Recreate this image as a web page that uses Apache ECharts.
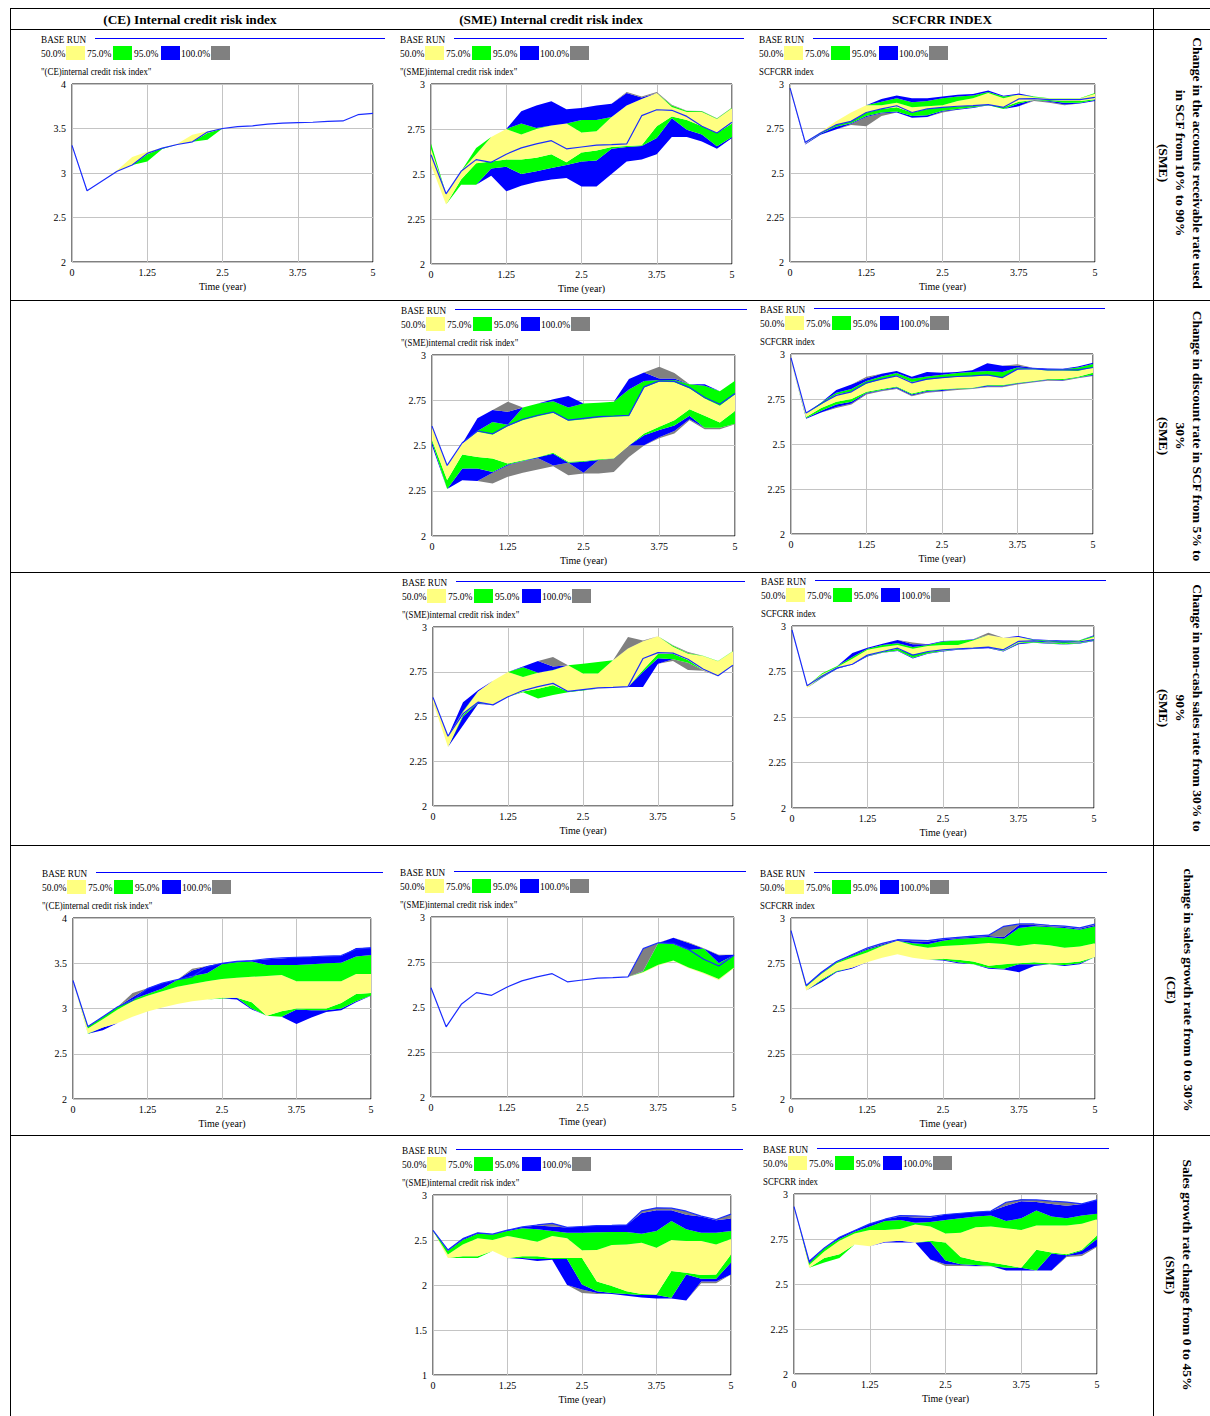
<!DOCTYPE html>
<html><head><meta charset="utf-8">
<script src="https://cdn.jsdelivr.net/npm/echarts@6/dist/echarts.min.js"></script>
<style>html,body{margin:0;padding:0;background:#fff}#c{width:1210px;height:1416px}</style>
</head><body><div id="c"></div>
<script>
// ---------------- DATA ----------------
const time = ['0','0.25','0.5','0.75','1','1.25','1.5','1.75','2','2.25','2.5','2.75','3','3.25','3.5','3.75','4','4.25','4.5','4.75','5'];
const columnTitles = ['(CE) Internal credit risk index','(SME) Internal credit risk index','SCFCRR INDEX'];
const rowLabels = [
  'Change in the accounts receivable rate used\nin SCF from 10% to 90%\n(SME)',
  'Change in discount rate in SCF from 5% to\n30%\n(SME)',
  'Change in non-cash sales rate from 30% to\n90%\n(SME)',
  'change in sales growth rate from 0 to 30%\n(CE)',
  'Sales growth rate change from 0 to 45%\n(SME)'
];
const legendLabels = ['50.0%','75.0%','95.0%','100.0%'];

const baseCE  = [3.31,2.80,2.91,3.02,3.09,3.22,3.28,3.32,3.35,3.46,3.50,3.52,3.53,3.55,3.56,3.565,3.57,3.58,3.585,3.655,3.67];
const baseSME = [2.607,2.39,2.515,2.58,2.565,2.61,2.645,2.667,2.685,2.64,2.65,2.66,2.663,2.667,2.824,2.857,2.854,2.82,2.765,2.728,2.787];
const baseSCF = [2.978,2.672,2.725,2.77,2.79,2.84,2.86,2.878,2.84,2.86,2.869,2.875,2.878,2.884,2.869,2.916,2.918,2.912,2.912,2.912,2.925];
const baseSCFg= [2.93,2.627,2.70,2.76,2.797,2.834,2.86,2.88,2.878,2.875,2.886,2.893,2.90,2.905,2.954,2.967,2.967,2.96,2.955,2.945,2.967];

// Chart A: (CE) index, receivable rate
const A_hi100 = [3.31,2.80,2.91,3.03,3.18,3.24,3.28,3.33,3.43,3.47,3.50,3.52,3.53,3.55,3.56,3.565,3.57,3.58,3.585,3.655,3.67];
const A_hi95 = A_hi100, A_hi75 = A_hi100, A_hi50 = A_hi100;
const A_lo50 = [3.31,2.80,2.91,3.02,3.09,3.21,3.28,3.32,3.35,3.45,3.50,3.52,3.53,3.55,3.56,3.565,3.57,3.58,3.585,3.655,3.67];
const A_lo75 = [3.31,2.80,2.91,3.02,3.09,3.13,3.27,3.32,3.35,3.375,3.50,3.52,3.53,3.55,3.56,3.565,3.57,3.58,3.585,3.655,3.67];
const A_lo95 = A_lo75, A_lo100 = A_lo75;

// Chart B: (SME) index, receivable rate
const B_hi100 = [2.67,2.39,2.515,2.645,2.705,2.75,2.848,2.88,2.904,2.86,2.867,2.88,2.89,2.955,2.93,2.955,2.885,2.852,2.85,2.81,2.87];
const B_hi95  = [2.67,2.39,2.515,2.645,2.705,2.75,2.848,2.88,2.904,2.86,2.867,2.88,2.89,2.95,2.925,2.95,2.88,2.85,2.848,2.808,2.868];
const B_hi75  = [2.67,2.39,2.515,2.645,2.705,2.75,2.78,2.755,2.77,2.78,2.80,2.80,2.817,2.88,2.917,2.95,2.88,2.85,2.848,2.808,2.868];
const B_hi50  = [2.64,2.39,2.515,2.61,2.705,2.75,2.72,2.75,2.77,2.78,2.73,2.737,2.817,2.88,2.917,2.95,2.872,2.845,2.845,2.805,2.865];
const B_lo50  = [2.55,2.33,2.47,2.56,2.57,2.58,2.58,2.59,2.61,2.565,2.62,2.63,2.65,2.655,2.66,2.765,2.82,2.80,2.765,2.728,2.78];
const B_lo75  = [2.55,2.33,2.44,2.44,2.53,2.54,2.50,2.515,2.533,2.55,2.57,2.575,2.64,2.65,2.655,2.70,2.81,2.746,2.72,2.654,2.705];
const B_lo95  = [2.55,2.33,2.44,2.44,2.49,2.404,2.435,2.455,2.47,2.478,2.43,2.43,2.50,2.57,2.58,2.61,2.706,2.706,2.68,2.64,2.70];
const B_lo100 = B_lo95;

// Chart C: SCFCRR, receivable rate
const C_hi100 = [2.99,2.672,2.73,2.79,2.84,2.88,2.916,2.936,2.92,2.92,2.93,2.94,2.944,2.964,2.934,2.946,2.93,2.92,2.92,2.92,2.95];
const C_hi95  = C_hi100;
const C_hi75  = [2.99,2.672,2.73,2.79,2.84,2.88,2.90,2.92,2.897,2.905,2.92,2.93,2.935,2.955,2.93,2.94,2.93,2.92,2.92,2.92,2.95];
const C_hi50  = [2.99,2.672,2.73,2.79,2.84,2.88,2.88,2.895,2.87,2.875,2.88,2.905,2.92,2.95,2.92,2.94,2.925,2.918,2.918,2.918,2.945];
const C_lo50  = [2.97,2.665,2.725,2.77,2.79,2.84,2.86,2.87,2.84,2.86,2.869,2.875,2.878,2.884,2.869,2.90,2.91,2.91,2.905,2.905,2.915];
const C_lo75  = [2.97,2.665,2.72,2.76,2.78,2.82,2.84,2.845,2.82,2.825,2.85,2.86,2.87,2.88,2.86,2.89,2.91,2.905,2.895,2.895,2.91];
const C_lo95  = [2.97,2.66,2.715,2.745,2.775,2.815,2.835,2.84,2.81,2.815,2.845,2.855,2.865,2.88,2.86,2.875,2.91,2.90,2.885,2.89,2.905];
const C_lo100 = [2.97,2.66,2.715,2.745,2.77,2.762,2.82,2.84,2.81,2.815,2.84,2.855,2.865,2.88,2.86,2.875,2.905,2.895,2.88,2.89,2.905];

// Chart D: (SME) index, discount rate
const D_hi100 = [2.603,2.387,2.511,2.65,2.696,2.742,2.71,2.732,2.756,2.773,2.732,2.736,2.742,2.867,2.904,2.935,2.90,2.838,2.838,2.80,2.858];
const D_hi95  = [2.603,2.387,2.511,2.65,2.696,2.686,2.71,2.732,2.756,2.773,2.732,2.736,2.742,2.867,2.904,2.87,2.87,2.838,2.838,2.80,2.858];
const D_hi75  = [2.603,2.387,2.511,2.58,2.63,2.615,2.71,2.732,2.745,2.71,2.732,2.736,2.742,2.81,2.856,2.862,2.862,2.838,2.83,2.80,2.858];
const D_hi50  = [2.603,2.387,2.511,2.576,2.56,2.607,2.64,2.662,2.68,2.637,2.644,2.653,2.659,2.662,2.82,2.852,2.849,2.815,2.76,2.72,2.782];
const D_lo50  = [2.53,2.31,2.45,2.437,2.428,2.40,2.419,2.437,2.46,2.41,2.415,2.424,2.43,2.50,2.566,2.603,2.64,2.70,2.664,2.627,2.69];
const D_lo75  = [2.52,2.26,2.373,2.373,2.354,2.395,2.415,2.435,2.455,2.405,2.41,2.42,2.428,2.50,2.557,2.585,2.61,2.664,2.598,2.598,2.62];
const D_lo95  = [2.50,2.26,2.308,2.304,2.35,2.39,2.413,2.43,2.39,2.405,2.35,2.42,2.428,2.50,2.502,2.545,2.58,2.645,2.598,2.598,2.62];
const D_lo100 = [2.50,2.26,2.308,2.304,2.29,2.327,2.35,2.367,2.385,2.336,2.345,2.345,2.354,2.437,2.50,2.54,2.566,2.64,2.59,2.59,2.618];

// Chart E: SCFCRR, discount rate
const E_hi100 = [2.97,2.67,2.73,2.80,2.83,2.874,2.89,2.906,2.874,2.90,2.896,2.90,2.91,2.948,2.935,2.943,2.924,2.92,2.918,2.93,2.952];
const E_hi95  = [2.97,2.67,2.73,2.80,2.83,2.865,2.89,2.906,2.874,2.90,2.896,2.90,2.91,2.948,2.935,2.935,2.924,2.92,2.918,2.93,2.952];
const E_hi75  = [2.97,2.67,2.73,2.785,2.805,2.85,2.875,2.895,2.862,2.875,2.885,2.895,2.90,2.905,2.90,2.925,2.92,2.915,2.915,2.925,2.945];
const E_hi50  = [2.97,2.67,2.72,2.775,2.79,2.835,2.86,2.88,2.845,2.857,2.866,2.873,2.877,2.88,2.868,2.915,2.915,2.908,2.908,2.905,2.925];
const E_lo50  = [2.96,2.65,2.70,2.735,2.75,2.79,2.806,2.82,2.78,2.80,2.804,2.81,2.813,2.828,2.828,2.84,2.85,2.861,2.861,2.874,2.896];
const E_lo75  = [2.96,2.645,2.685,2.72,2.735,2.785,2.80,2.815,2.775,2.795,2.80,2.807,2.81,2.825,2.823,2.838,2.847,2.858,2.855,2.87,2.885];
const E_lo95  = [2.96,2.64,2.675,2.705,2.725,2.78,2.797,2.81,2.77,2.79,2.795,2.805,2.808,2.82,2.82,2.835,2.845,2.855,2.853,2.868,2.88];
const E_lo100 = [2.96,2.64,2.675,2.70,2.72,2.775,2.793,2.805,2.765,2.785,2.792,2.80,2.805,2.815,2.815,2.83,2.842,2.852,2.85,2.865,2.878];

// Chart F: (SME) index, non-cash sales rate
const F_hi100 = [2.61,2.39,2.58,2.646,2.70,2.749,2.78,2.81,2.832,2.786,2.795,2.804,2.814,2.944,2.925,2.948,2.898,2.86,2.84,2.81,2.866];
const F_hi95  = [2.61,2.39,2.58,2.646,2.70,2.749,2.78,2.81,2.78,2.786,2.795,2.804,2.814,2.88,2.92,2.948,2.895,2.855,2.84,2.81,2.866];
const F_hi75  = [2.61,2.39,2.53,2.64,2.70,2.749,2.775,2.745,2.76,2.786,2.795,2.804,2.814,2.88,2.92,2.948,2.895,2.855,2.84,2.81,2.866];
const F_hi50  = [2.61,2.39,2.525,2.64,2.70,2.749,2.72,2.745,2.758,2.786,2.74,2.74,2.814,2.88,2.92,2.948,2.89,2.85,2.838,2.808,2.864];
const F_lo50  = [2.58,2.33,2.51,2.58,2.565,2.61,2.64,2.655,2.674,2.64,2.65,2.655,2.66,2.665,2.76,2.85,2.85,2.815,2.76,2.725,2.787];
const F_lo75  = [2.58,2.33,2.50,2.575,2.565,2.61,2.635,2.60,2.62,2.635,2.645,2.655,2.66,2.665,2.75,2.825,2.82,2.80,2.76,2.725,2.787];
const F_lo95  = [2.58,2.33,2.45,2.57,2.565,2.61,2.635,2.60,2.62,2.635,2.645,2.655,2.66,2.665,2.665,2.795,2.82,2.80,2.76,2.725,2.787];
const F_lo100 = [2.58,2.33,2.45,2.57,2.565,2.61,2.635,2.60,2.62,2.635,2.645,2.655,2.66,2.665,2.665,2.795,2.81,2.76,2.755,2.725,2.787];

// Chart G: SCFCRR, non-cash sales rate
const G_hi100 = [2.973,2.672,2.74,2.78,2.852,2.88,2.903,2.923,2.909,2.90,2.918,2.921,2.927,2.963,2.936,2.945,2.927,2.923,2.92,2.92,2.949];
const G_hi95  = [2.973,2.672,2.74,2.78,2.852,2.88,2.903,2.923,2.90,2.90,2.918,2.921,2.927,2.95,2.936,2.945,2.927,2.923,2.92,2.92,2.949];
const G_hi75  = [2.973,2.672,2.74,2.78,2.83,2.875,2.895,2.905,2.885,2.895,2.915,2.92,2.925,2.95,2.935,2.94,2.925,2.92,2.915,2.92,2.945];
const G_hi50  = [2.973,2.672,2.735,2.775,2.82,2.87,2.885,2.895,2.875,2.89,2.895,2.895,2.92,2.95,2.935,2.94,2.92,2.915,2.905,2.915,2.94];
const G_lo50  = [2.97,2.66,2.725,2.77,2.79,2.838,2.86,2.875,2.843,2.86,2.866,2.875,2.878,2.883,2.865,2.91,2.915,2.91,2.905,2.91,2.925];
const G_lo75  = [2.97,2.66,2.72,2.768,2.79,2.835,2.855,2.865,2.825,2.85,2.862,2.872,2.876,2.88,2.862,2.905,2.91,2.905,2.90,2.905,2.92];
const G_lo95  = [2.97,2.66,2.715,2.765,2.788,2.833,2.853,2.862,2.822,2.848,2.86,2.87,2.874,2.878,2.86,2.90,2.908,2.903,2.898,2.903,2.918];
const G_lo100 = G_lo95;

// Chart H: (CE) index, sales growth (CE)
const H_hi100 = [3.31,2.80,2.91,3.02,3.17,3.225,3.28,3.317,3.44,3.47,3.50,3.52,3.53,3.545,3.553,3.565,3.572,3.576,3.58,3.668,3.675];
const H_hi95  = [3.31,2.80,2.91,3.02,3.125,3.225,3.28,3.317,3.42,3.47,3.50,3.52,3.53,3.545,3.553,3.565,3.572,3.576,3.58,3.668,3.675];
const H_hi75  = [3.31,2.80,2.91,3.02,3.10,3.16,3.22,3.315,3.36,3.39,3.49,3.51,3.52,3.48,3.48,3.48,3.49,3.50,3.505,3.575,3.59];
const H_hi50  = [3.31,2.78,2.88,2.99,3.08,3.14,3.19,3.24,3.27,3.30,3.325,3.34,3.35,3.36,3.37,3.30,3.30,3.30,3.30,3.38,3.38];
const H_lo50  = [3.30,2.727,2.79,2.84,2.91,2.967,3.01,3.05,3.08,3.10,3.12,3.12,3.07,2.92,2.97,3.00,3.00,3.00,3.06,3.16,3.17];
const H_lo75  = [3.30,2.72,2.79,2.84,2.91,2.967,3.01,3.05,3.08,3.10,3.11,3.12,3.00,2.92,2.91,2.99,2.98,2.98,3.00,3.08,3.145];
const H_lo95  = [3.30,2.72,2.76,2.84,2.91,2.967,3.01,3.05,3.08,3.10,3.11,3.10,2.99,2.92,2.91,2.83,2.90,2.96,2.98,3.07,3.14];
const H_lo100 = H_lo95;

// Chart I: (SME) index, sales growth (CE)
const I_hi100 = [2.607,2.39,2.515,2.58,2.565,2.61,2.645,2.667,2.685,2.64,2.65,2.66,2.663,2.667,2.823,2.857,2.885,2.86,2.827,2.79,2.79];
const I_hi95  = [2.607,2.39,2.515,2.58,2.565,2.61,2.645,2.667,2.685,2.64,2.65,2.66,2.663,2.667,2.70,2.855,2.885,2.855,2.825,2.788,2.79];
const I_hi75  = [2.607,2.39,2.515,2.58,2.565,2.61,2.645,2.667,2.685,2.64,2.65,2.66,2.663,2.667,2.698,2.855,2.85,2.817,2.825,2.745,2.788];
const I_hi50  = [2.607,2.39,2.515,2.58,2.565,2.61,2.645,2.667,2.685,2.64,2.65,2.66,2.663,2.667,2.695,2.735,2.758,2.72,2.69,2.655,2.72];
const I_lo50  = [2.607,2.39,2.515,2.58,2.565,2.61,2.645,2.667,2.685,2.64,2.65,2.66,2.663,2.667,2.69,2.73,2.755,2.715,2.685,2.648,2.715];
const I_lo75 = I_lo50, I_lo95 = I_lo50, I_lo100 = I_lo50;

// Chart J: SCFCRR, sales growth (CE)
const J_hi100 = [2.93,2.627,2.70,2.76,2.797,2.834,2.86,2.88,2.878,2.875,2.886,2.893,2.90,2.905,2.954,2.967,2.967,2.96,2.955,2.945,2.967];
const J_hi95  = [2.93,2.627,2.70,2.758,2.795,2.83,2.855,2.878,2.872,2.87,2.882,2.89,2.897,2.90,2.895,2.962,2.962,2.955,2.95,2.94,2.962];
const J_hi75  = [2.93,2.625,2.695,2.755,2.79,2.825,2.85,2.875,2.86,2.855,2.875,2.885,2.89,2.895,2.885,2.945,2.955,2.95,2.945,2.935,2.955];
const J_hi50  = [2.93,2.62,2.69,2.75,2.78,2.81,2.845,2.875,2.849,2.835,2.845,2.85,2.855,2.862,2.857,2.845,2.857,2.85,2.835,2.842,2.86];
const J_lo50  = [2.93,2.60,2.66,2.708,2.725,2.755,2.78,2.80,2.78,2.77,2.775,2.77,2.76,2.736,2.745,2.75,2.755,2.75,2.752,2.76,2.785];
const J_lo75  = [2.93,2.60,2.655,2.705,2.725,2.755,2.78,2.80,2.78,2.77,2.77,2.755,2.745,2.725,2.72,2.745,2.745,2.745,2.74,2.75,2.785];
const J_lo95  = [2.93,2.60,2.645,2.70,2.72,2.755,2.78,2.80,2.78,2.77,2.765,2.75,2.745,2.72,2.715,2.70,2.735,2.745,2.735,2.745,2.785];
const J_lo100 = J_lo95;

// Chart K: (SME) index, sales growth (SME)
const K_hi100 = [2.607,2.39,2.515,2.58,2.565,2.61,2.645,2.667,2.685,2.64,2.65,2.66,2.663,2.667,2.824,2.857,2.854,2.82,2.765,2.728,2.787];
const K_hi95  = [2.607,2.39,2.515,2.58,2.565,2.61,2.645,2.66,2.65,2.64,2.65,2.66,2.663,2.667,2.80,2.83,2.83,2.78,2.76,2.72,2.74];
const K_hi75  = [2.607,2.38,2.50,2.57,2.56,2.60,2.63,2.62,2.60,2.58,2.58,2.585,2.59,2.59,2.57,2.60,2.71,2.62,2.58,2.58,2.60];
const K_hi50  = [2.60,2.34,2.45,2.52,2.50,2.545,2.515,2.48,2.545,2.52,2.385,2.39,2.445,2.45,2.47,2.415,2.50,2.49,2.49,2.45,2.51];
const K_lo50  = [2.60,2.30,2.32,2.32,2.378,2.30,2.32,2.32,2.30,2.30,2.30,2.04,1.99,1.93,1.90,1.894,2.155,2.136,2.11,2.117,2.34];
const K_lo75  = [2.60,2.30,2.30,2.30,2.378,2.30,2.30,2.29,2.29,2.29,2.005,1.93,1.91,1.90,1.89,1.89,1.857,2.117,2.07,2.07,2.25];
const K_lo95  = [2.60,2.30,2.30,2.30,2.378,2.30,2.29,2.266,2.28,2.00,1.95,1.91,1.90,1.88,1.86,1.85,1.85,1.827,2.04,2.04,2.117];
const K_lo100 = [2.60,2.30,2.30,2.30,2.378,2.30,2.29,2.266,2.28,2.00,1.91,1.90,1.90,1.88,1.86,1.85,1.85,1.827,2.02,2.02,2.117];

// Chart L: SCFCRR, sales growth (SME)
const L_hi100 = [2.93,2.627,2.70,2.76,2.797,2.834,2.86,2.88,2.878,2.875,2.886,2.893,2.90,2.905,2.954,2.967,2.967,2.96,2.955,2.945,2.967];
const L_hi95  = [2.93,2.627,2.70,2.76,2.797,2.834,2.86,2.875,2.87,2.87,2.886,2.893,2.90,2.905,2.935,2.955,2.955,2.945,2.935,2.945,2.967];
const L_hi75  = [2.93,2.615,2.70,2.75,2.79,2.82,2.85,2.855,2.84,2.845,2.855,2.865,2.875,2.88,2.85,2.86,2.908,2.875,2.865,2.88,2.89];
const L_hi50  = [2.93,2.605,2.68,2.74,2.78,2.80,2.80,2.805,2.83,2.82,2.78,2.785,2.815,2.82,2.81,2.795,2.825,2.825,2.825,2.835,2.86];
const L_lo50  = [2.925,2.59,2.645,2.665,2.72,2.71,2.735,2.74,2.73,2.74,2.73,2.65,2.63,2.62,2.605,2.585,2.69,2.675,2.665,2.69,2.77];
const L_lo75  = [2.925,2.59,2.62,2.645,2.72,2.71,2.735,2.74,2.73,2.735,2.63,2.61,2.605,2.60,2.59,2.59,2.575,2.67,2.66,2.685,2.75];
const L_lo95  = [2.925,2.59,2.62,2.645,2.72,2.71,2.73,2.73,2.73,2.636,2.61,2.605,2.60,2.60,2.575,2.575,2.575,2.575,2.655,2.665,2.71];
const L_lo100 = [2.925,2.59,2.62,2.645,2.72,2.71,2.73,2.73,2.73,2.636,2.60,2.60,2.598,2.598,2.575,2.575,2.575,2.575,2.65,2.655,2.705];

// ---------------- CHART DEFINITIONS ----------------
const TITLE_CE = '"(CE)internal credit risk index"';
const TITLE_SME = '"(SME)internal credit risk index"';
const TITLE_SCF = 'SCFCRR index';
const charts = [
  {k:'A', title:TITLE_CE,  y:[2,4,0.5],  base:baseCE,   b:[A_lo100,A_lo95,A_lo75,A_lo50,A_hi50,A_hi75,A_hi95,A_hi100]},
  {k:'B', title:TITLE_SME, y:[2,3,0.25], base:baseSME,  b:[B_lo100,B_lo95,B_lo75,B_lo50,B_hi50,B_hi75,B_hi95,B_hi100]},
  {k:'C', title:TITLE_SCF, y:[2,3,0.25], base:baseSCF,  b:[C_lo100,C_lo95,C_lo75,C_lo50,C_hi50,C_hi75,C_hi95,C_hi100]},
  {k:'D', title:TITLE_SME, y:[2,3,0.25], base:baseSME,  b:[D_lo100,D_lo95,D_lo75,D_lo50,D_hi50,D_hi75,D_hi95,D_hi100]},
  {k:'E', title:TITLE_SCF, y:[2,3,0.25], base:baseSCF,  b:[E_lo100,E_lo95,E_lo75,E_lo50,E_hi50,E_hi75,E_hi95,E_hi100]},
  {k:'F', title:TITLE_SME, y:[2,3,0.25], base:baseSME,  b:[F_lo100,F_lo95,F_lo75,F_lo50,F_hi50,F_hi75,F_hi95,F_hi100]},
  {k:'G', title:TITLE_SCF, y:[2,3,0.25], base:baseSCF,  b:[G_lo100,G_lo95,G_lo75,G_lo50,G_hi50,G_hi75,G_hi95,G_hi100]},
  {k:'H', title:TITLE_CE,  y:[2,4,0.5],  base:baseCE,   b:[H_lo100,H_lo95,H_lo75,H_lo50,H_hi50,H_hi75,H_hi95,H_hi100]},
  {k:'I', title:TITLE_SME, y:[2,3,0.25], base:baseSME,  b:[I_lo100,I_lo95,I_lo75,I_lo50,I_hi50,I_hi75,I_hi95,I_hi100]},
  {k:'J', title:TITLE_SCF, y:[2,3,0.25], base:baseSCFg, b:[J_lo100,J_lo95,J_lo75,J_lo50,J_hi50,J_hi75,J_hi95,J_hi100]},
  {k:'K', title:TITLE_SME, y:[1,3,0.5],  base:baseSME,  b:[K_lo100,K_lo95,K_lo75,K_lo50,K_hi50,K_hi75,K_hi95,K_hi100]},
  {k:'L', title:TITLE_SCF, y:[2,3,0.25], base:baseSCFg, b:[L_lo100,L_lo95,L_lo75,L_lo50,L_hi50,L_hi75,L_hi95,L_hi100]}
];

// ---------------- LAYOUT ----------------
const layout = {
  A:[72,84,373,262],  B:[431,84,732,264],  C:[790,84,1095,262],
  D:[432,355,735,536], E:[791,354,1093,534],
  F:[433,627,733,806], G:[792,626,1094,808],
  H:[73,918,371,1099], I:[431,917,734,1097], J:[791,918,1095,1099],
  K:[433,1195,731,1375], L:[794,1194,1097,1374]
};
const FONT = '"Liberation Serif","Times New Roman",serif';
const YELLOW='#ffff80', GREEN='#00ff00', BLUE='#0000ff', GRAY='#808080', BASECOL='#1a2cff';
const bandColors = [null, GRAY, BLUE, GREEN, YELLOW, GREEN, BLUE, GRAY];
const swatchColors = [YELLOW, GREEN, BLUE, GRAY];

const grids=[], xAxes=[], yAxes=[], series=[], graphics=[];
const txt = (x,y,text,opt={}) => ({type:'text', x, y, silent:true, rotation: opt.rot||0, scaleX: opt.sx||1, z:10,
  style:{text, fill:'#000', font: opt.font || ('10px '+FONT), textAlign: opt.align||'left', align: opt.align||'left',
         textVerticalAlign:'middle', verticalAlign:'middle', lineHeight: opt.lh||12}});

charts.forEach((c,i)=>{
  const [L,T,R,B] = layout[c.k];
  grids.push({left:L, top:T, width:R-L, height:B-T, show:true, borderColor:'#000', borderWidth:1,
              containLabel:false, outerBoundsMode:'none'});
  xAxes.push({gridIndex:i, type:'category', data:time, boundaryGap:false,
    axisLine:{show:false}, axisTick:{show:false},
    axisLabel:{fontFamily:FONT, fontSize:10, color:'#000', margin:5, interval:4, hideOverlap:false},
    splitLine:{show:true, interval:4, lineStyle:{color:'#c4c4c4', width:1}},
    name:'Time (year)', nameLocation:'middle', nameGap:19,
    nameTextStyle:{fontFamily:FONT, fontSize:10, color:'#000'}});
  yAxes.push({gridIndex:i, type:'value', min:c.y[0], max:c.y[1], interval:c.y[2],
    axisLine:{show:false}, axisTick:{show:false},
    axisLabel:{fontFamily:FONT, fontSize:10, color:'#000', margin:6, showMinLabel:true, showMaxLabel:true, hideOverlap:false},
    splitLine:{show:true, lineStyle:{color:'#c4c4c4', width:1}}});
  c.b.forEach((arr,k)=>{
    const prev = k ? c.b[k-1] : null;
    series.push({type:'line', xAxisIndex:i, yAxisIndex:i, stack:'band'+i, silent:true, animation:false,
      symbol:'none', showSymbol:false, lineStyle:{width:0, opacity:0},
      areaStyle: k ? {color:bandColors[k], opacity:1} : undefined, z:2,
      data: arr.map((v,j)=> k ? Math.max(0, +(v-prev[j]).toFixed(4)) : v)});
  });
  series.push({type:'line', xAxisIndex:i, yAxisIndex:i, silent:true, animation:false, symbol:'none', showSymbol:false,
    lineStyle:{color:BASECOL, width:1.2}, z:5, data: c.base});
  // legend (Vensim style)
  graphics.push(txt(L-31, T-45, 'BASE RUN', {sx:0.92}));
  graphics.push({type:'line', silent:true, z:10, shape:{x1:L+23, y1:T-45.5, x2:R+12, y2:T-45.5}, style:{stroke:BLUE, lineWidth:1}});
  const txOff=[-31,15,62,109], swOff=[-6,41,89,139];
  legendLabels.forEach((lab,m)=>{
    graphics.push(txt(L+txOff[m], T-31, lab, {sx:0.95}));
    graphics.push({type:'rect', silent:true, z:10, shape:{x:L+swOff[m], y:T-38, width:19, height:14}, style:{fill:swatchColors[m]}});
  });
  graphics.push(txt(L-31, T-12, c.title, {sx:0.88}));
});

// table lines
const hLines = [8.5, 29.5, 300.5, 572.5, 845.5, 1135.5];
hLines.forEach(y=>graphics.push({type:'line', silent:true, shape:{x1:10, y1:y, x2:1210, y2:y}, style:{stroke:'#000', lineWidth:1}}));
[10.5, 1153.5].forEach(x=>graphics.push({type:'line', silent:true, shape:{x1:x, y1:8, x2:x, y2:1416}, style:{stroke:'#000', lineWidth:1}}));
// column headers
const HB = 'bold 13.3px '+FONT;
[[190,columnTitles[0]],[551,columnTitles[1]],[942,columnTitles[2]]].forEach(([x,t])=>graphics.push(txt(x,19,t,{font:HB, align:'center'})));
// rotated row labels
const RB = 'bold 13.5px '+FONT;
const rowCenters = [[1180,163],[1180,436],[1180,708],[1180,990],[1179,1275]];
rowLabels.forEach((t,r)=>graphics.push(txt(rowCenters[r][0], rowCenters[r][1], t, {font:RB, align:'center', rot:-Math.PI/2, lh:17})));

const chart = echarts.init(document.getElementById('c'), null, {renderer:'svg', width:1210, height:1416});
chart.setOption({
  animation:false, backgroundColor:'#fff',
  textStyle:{fontFamily:FONT},
  grid:grids, xAxis:xAxes, yAxis:yAxes, series, graphic:{elements:graphics}
});
</script></body></html>
